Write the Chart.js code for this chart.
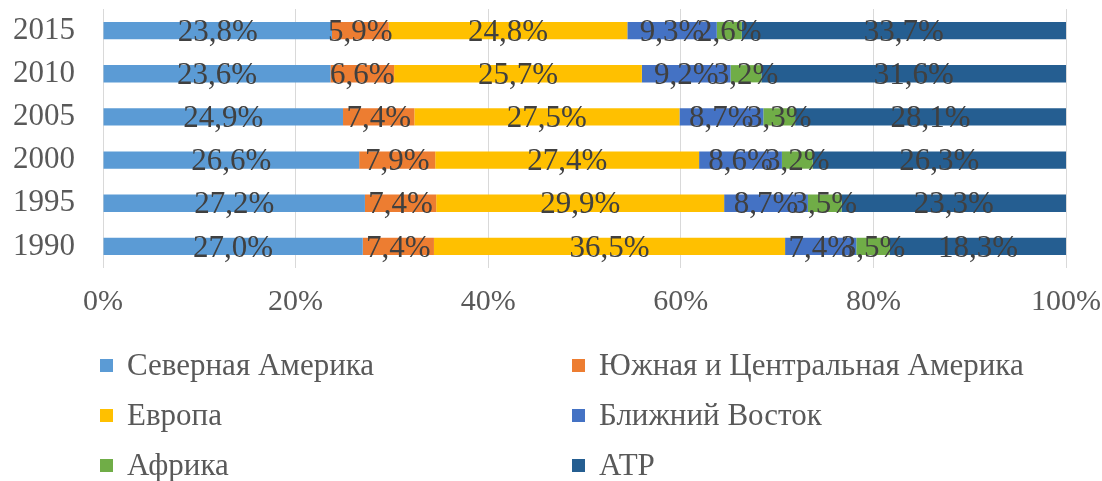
<!DOCTYPE html>
<html>
<head>
<meta charset="utf-8">
<script src="https://cdn.jsdelivr.net/npm/chart.js@4"></script>
<style>
  body { margin: 0; background: #fff; }
  #wrap { position: relative; width: 1102px; height: 481px; }
  #legend {
    position: absolute; left: 100px; top: 340px;
    display: grid; grid-template-columns: 472px 500px; grid-auto-rows: 50px;
    font-family: "Liberation Serif", "Times New Roman", serif; font-size: 31px; color: #595959;
  }
  #legend .item { display: flex; align-items: center; white-space: nowrap; }
  #legend .box { width: 13px; height: 13px; margin-right: 14px; }
</style>
</head>
<body>
<div id="wrap">
  <canvas id="chart" width="1102" height="481"></canvas>
  <div id="legend"></div>
</div>
<script>
var years = ['2015', '2010', '2005', '2000', '1995', '1990'];
var regions = ['Северная Америка', 'Южная и Центральная Америка', 'Европа', 'Ближний Восток', 'Африка', 'АТР'];
var northAmerica = [23.8, 23.6, 24.9, 26.6, 27.2, 27.0];
var southAmerica = [5.9, 6.6, 7.4, 7.9, 7.4, 7.4];
var europe = [24.8, 25.7, 27.5, 27.4, 29.9, 36.5];
var middleEast = [9.3, 9.2, 8.7, 8.6, 8.7, 7.4];
var africa = [2.6, 3.2, 3.3, 3.2, 3.5, 3.5];
var apr = [33.7, 31.6, 28.1, 26.3, 23.3, 18.3];
var xTicks = ['0%', '20%', '40%', '60%', '80%', '100%'];
var colors = ['#5B9BD5', '#ED7D31', '#FFC000', '#4472C4', '#70AD47', '#255E91'];

var series = [northAmerica, southAmerica, europe, middleEast, africa, apr];
var serif = '"Liberation Serif", "Times New Roman", serif';

// totals per year, so each bar fills 100%
var totals = years.map(function (y, i) {
    return series.reduce(function (s, arr) { return s + arr[i]; }, 0);
});

var datasets = series.map(function (arr, k) {
    return {
        label: regions[k],
        raw: arr,
        data: arr.map(function (v, i) { return v / totals[i] * 100; }),
        backgroundColor: colors[k],
        borderWidth: 0,
        barPercentage: 0.8,
        categoryPercentage: 0.5
    };
});

var barLabels = {
    id: 'barLabels',
    afterDatasetsDraw: function (chart) {
        var ctx = chart.ctx;
        ctx.save();
        ctx.font = '31px ' + serif;
        ctx.fillStyle = '#404040';
        ctx.textAlign = 'center';
        ctx.textBaseline = 'middle';
        chart.data.datasets.forEach(function (ds, k) {
            chart.getDatasetMeta(k).data.forEach(function (el, i) {
                var p = el.getProps(['x', 'y', 'base'], true);
                var txt = ds.raw[i].toFixed(1).replace('.', ',') + '%';
                ctx.fillText(txt, (p.x + p.base) / 2, p.y + 2);
            });
        });
        ctx.restore();
    }
};

new Chart(document.getElementById('chart').getContext('2d'), {
    type: 'bar',
    data: { labels: years, datasets: datasets },
    options: {
        indexAxis: 'y',
        responsive: false,
        animation: false,
        layout: { padding: { top: 9, right: 36, bottom: 153, left: 0 } },
        plugins: {
            legend: { display: false },
            tooltip: { enabled: false }
        },
        scales: {
            x: {
                stacked: true,
                min: 0,
                max: 100,
                afterFit: function (axis) {
                    axis.height = 60;
                    axis.paddingLeft = 0;
                    axis.paddingRight = 0;
                },
                grid: { color: '#D9D9D9', lineWidth: 1, drawTicks: false },
                border: { display: false },
                ticks: {
                    stepSize: 20,
                    padding: 16,
                    color: '#595959',
                    font: { family: serif, size: 30 },
                    callback: function (v) { return xTicks[v / 20]; }
                }
            },
            y: {
                stacked: true,
                afterFit: function (axis) {
                    axis.width = 103;
                    axis.paddingTop = 0;
                    axis.paddingBottom = 0;
                },
                grid: { display: false, drawTicks: false },
                border: { display: false },
                ticks: {
                    autoSkip: false,
                    padding: 28,
                    color: '#595959',
                    font: { family: serif, size: 31 }
                }
            }
        }
    },
    plugins: [barLabels]
});

var legend = document.getElementById('legend');
regions.forEach(function (name, k) {
    var item = document.createElement('div');
    item.className = 'item';
    var box = document.createElement('span');
    box.className = 'box';
    box.style.background = colors[k];
    var label = document.createElement('span');
    label.textContent = name;
    item.appendChild(box);
    item.appendChild(label);
    legend.appendChild(item);
});
</script>
</body>
</html>
